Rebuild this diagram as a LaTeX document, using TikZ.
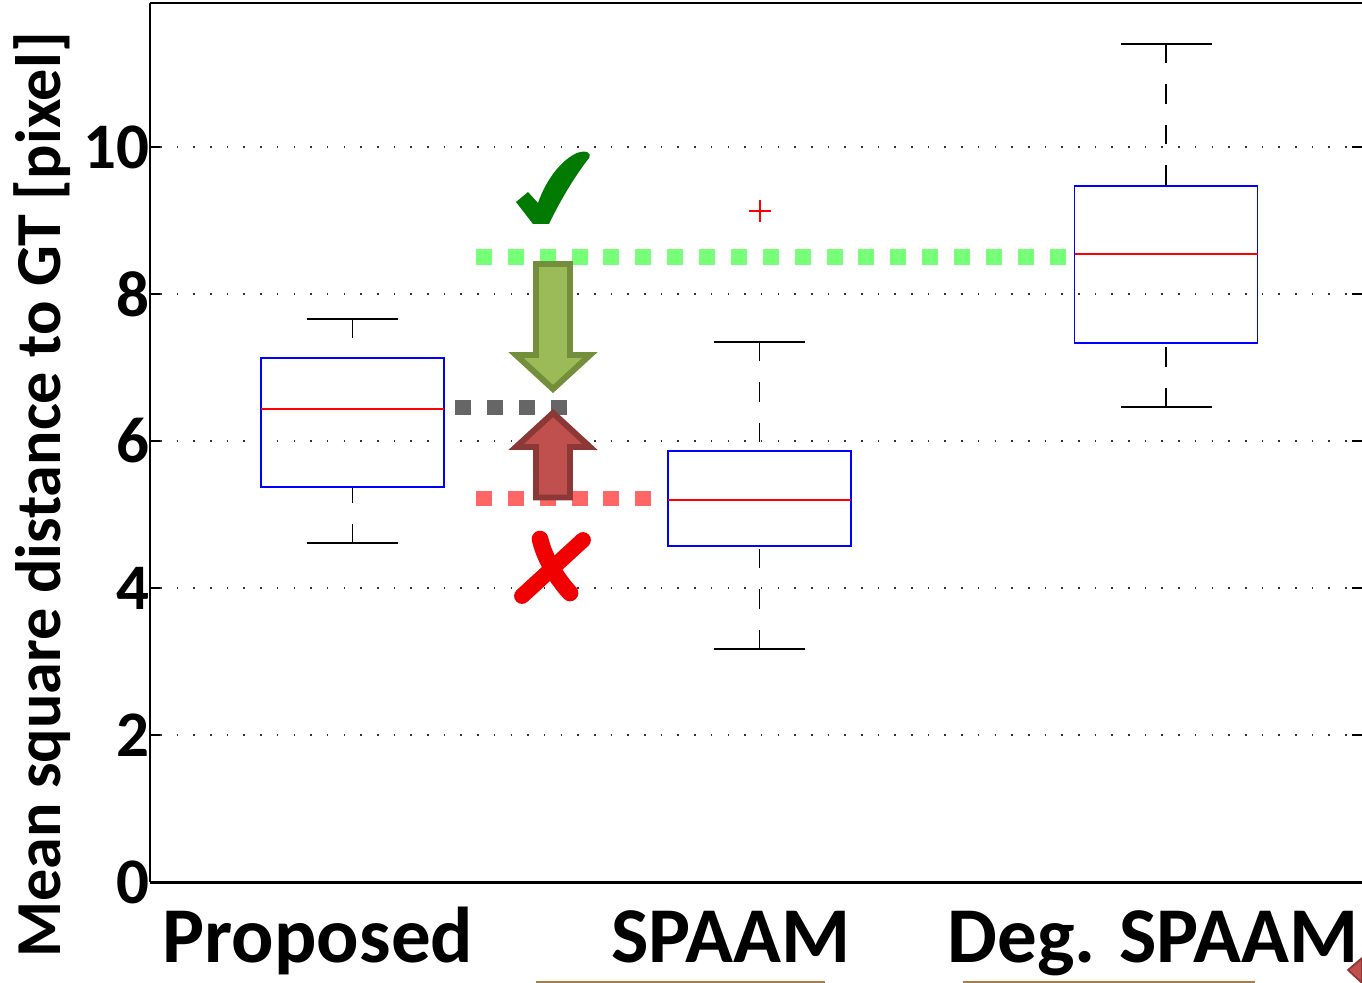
\documentclass[tikz,border=0pt]{standalone}
\usepackage{fontspec}
\setmainfont{Carlito}
\usepackage{xcolor}

\definecolor{boxblue}{RGB}{0,0,255}
\definecolor{medred}{RGB}{255,0,0}
\definecolor{lightgreen}{RGB}{119,255,119}
\definecolor{lightred}{RGB}{255,102,102}
\definecolor{darkgray}{RGB}{102,102,102}
\definecolor{olivefill}{RGB}{155,187,89}
\definecolor{olivedraw}{RGB}{116,143,60}
\definecolor{brickfill}{RGB}{192,80,77}
\definecolor{brickdraw}{RGB}{140,56,54}
\definecolor{checkgreen}{RGB}{0,122,0}
\definecolor{crossred}{RGB}{240,0,0}
\definecolor{stripbrown}{RGB}{170,125,70}

\begin{document}
\begin{tikzpicture}[x=0.02cm, y=-0.02cm,
    axisline/.style={draw=black, line width=1.4pt},
    gridline/.style={draw=black!80, line width=0.9pt, dash pattern=on 0.9pt off 8.6pt},
    boxline/.style={draw=boxblue, line width=1.1pt},
    medianline/.style={draw=medred, line width=0.9pt},
    whisker/.style={draw=black, line width=1.1pt, dash pattern=on 11pt off 12pt},
    whiskercap/.style={draw=black, line width=0.9pt},
    levelline/.style={line width=9.07pt, dash pattern=on 9.07pt off 9.07pt},
    ticklabel/.style={anchor=east, inner sep=0pt, font=\fontsize{37}{44}\selectfont\bfseries},
    grouplabel/.style={anchor=base, inner sep=0pt, font=\fontsize{45}{54}\selectfont\bfseries},
    blockarrow/.style={line width=3.4pt, line join=miter}]

    % Frame of the picture
    \useasboundingbox (0,0) rectangle (1362,983);
    \fill[white] (0,0) rectangle (1362,983);

    % Grid lines, ticks and tick labels (0 to 10 in steps of 2)
    \foreach \val in {0,2,...,10} {
        \pgfmathsetmacro\py{882-73.5*\val}
        \ifnum\val>0
            \draw[gridline] (160,\py) -- (1352,\py);
        \fi
        \draw[axisline] (150,\py) -- (160,\py);
        \draw[axisline] (1352,\py) -- (1362,\py);
        \node[ticklabel] (tick\val) at (150,\py) {\val};
    }

    % Axes
    \draw[axisline] (150,3) -- (1362,3);
    \draw[axisline] (150,3) -- (150,882);
    \draw[draw=black, line width=1.7pt] (150,882) -- (1362,882);

    % Box plots: centre / lower whisker / q1 / median / q3 / upper whisker
    \def\boxData{352.5/543/487/409/358/319, 759.5/649/546/500/451/342, 1166/407/343/254/186/44}
    \foreach \cx/\lo/\qa/\md/\qb/\hi [count=\i from 1] in \boxData {
        % whiskers
        \draw[whisker] (\cx,\hi) -- (\cx,\qb);
        \draw[whisker] (\cx,\lo) -- (\cx,\qa);
        \draw[whiskercap] (\cx-45.5,\hi) -- (\cx+45.5,\hi);
        \draw[whiskercap] (\cx-45.5,\lo) -- (\cx+45.5,\lo);
        % box and median
        \draw[boxline] (\cx-91.5,\qa) rectangle (\cx+91.5,\qb);
        \draw[medianline] (\cx-91.5,\md) -- (\cx+91.5,\md);
    }

    % Outlier of SPAAM
    \draw[medianline] (749,211) -- (771,211);
    \draw[medianline] (760,200) -- (760,222);

    % Dotted level lines
    \draw[levelline, lightgreen] (476,257) -- (1068,257);
    \draw[levelline, darkgray] (455,407.5) -- (568,407.5);
    \draw[levelline, lightred] (476,498.5) -- (652,498.5);

    % Block arrows
    \filldraw[blockarrow, fill=olivefill, draw=olivedraw]
        (536,264) -- (570,264) -- (570,355) -- (590,355) -- (553,389)
        -- (516,355) -- (536,355) -- cycle;
    \filldraw[blockarrow, fill=brickfill, draw=brickdraw]
        (536,497.5) -- (570,497.5) -- (570,447) -- (590,447) -- (553,413)
        -- (516,447) -- (536,447) -- cycle;

    % Check mark
    \fill[checkgreen] (516,202) -- (528,192) -- (538,203)
        .. controls (546,180) and (561,160) .. (577,153)
        .. controls (585,150) and (592,152) .. (589,158)
        .. controls (575,176) and (561,199) .. (549,224)
        -- (533,224) -- cycle;

    % Cross
    \draw[crossred, line width=9pt, line cap=round] (522,596) -- (583,540);
    \draw[crossred, line width=9.5pt, line cap=round]
        (540,539) .. controls (545,560) and (558,580) .. (570,593);

    % Group labels
    \node[grouplabel] (lblProposed) at (318,962) {Proposed};
    \node[grouplabel] (lblSpaam) at (731,962) {SPAAM};
    \node[grouplabel] (lblDeg) at (1153,962) {Deg. SPAAM};

    % Axis label
    \node[rotate=90, anchor=base, inner sep=0pt, font=\fontsize{36.5}{44}\selectfont\bfseries]
        (ylabel) at (60,495) {Mean square distance to GT [pixel]};

    % Edges of neighbouring slide content
    \fill[stripbrown] (536,981) rectangle (825,983);
    \fill[stripbrown] (963,981) rectangle (1255,983);
    \filldraw[fill=brickfill, draw=brickdraw, line width=1pt]
        (1362,958) -- (1348,970) -- (1362,983) -- cycle;

\end{tikzpicture}
\end{document}
